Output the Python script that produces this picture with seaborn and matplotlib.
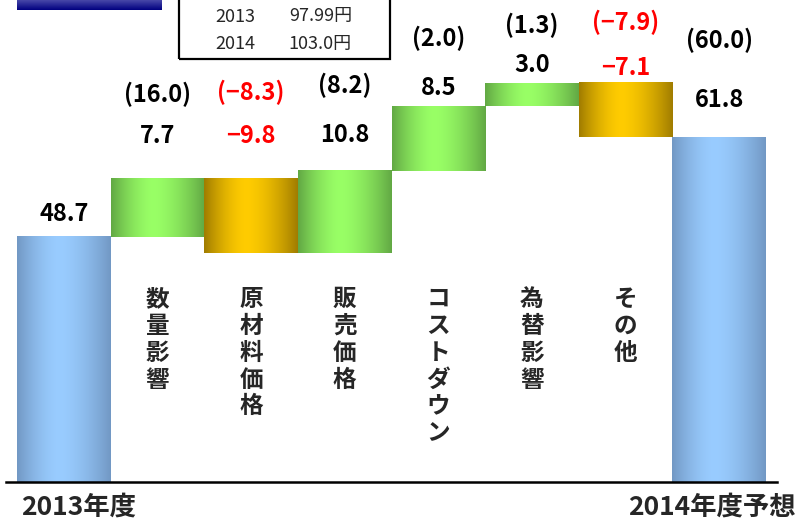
import numpy as np
import pandas as pd
import matplotlib
matplotlib.use("Agg")
import matplotlib.pyplot as plt
from matplotlib.colors import to_rgb
from matplotlib.patches import Rectangle
import seaborn as sns

# 営業利益の増減要因（億円）
categories = ["2013年度", "数量影響", "原材料価格", "販売価格",
              "コストダウン", "為替影響", "その他", "2014年度予想"]
changes = [48.7, 7.7, -9.8, 10.8, 8.5, 3.0, -7.1, 61.8]
plan_values = [None, 16.0, -8.3, 8.2, 2.0, 1.3, -7.9, 60.0]
kinds = ["total", "step", "step", "step", "step", "step", "step", "total"]

# 為替レート
fx_years = ["2013", "2014"]
fx_rates = [97.99, 103.0]

# waterfall geometry: totals start at zero, steps float on the running sum
bottoms, heights = [], []
running = 0.0
for v, k in zip(changes, kinds):
    if k == "total":
        bottoms.append(0.0)
        heights.append(v)
        running = v
    else:
        bottoms.append(running)
        heights.append(v)
        running += v

df = pd.DataFrame({"項目": categories, "値": heights})

sns.set_style("white")
plt.rcParams["font.family"] = ["Noto Sans CJK JP", "DejaVu Sans"]

W, H = 797, 520
fig = plt.figure(figsize=(W / 100, H / 100), dpi=100)
ax = fig.add_axes([6 / W, 1 - 482 / H, 771 / W, 482 / H])

sns.barplot(data=df, x="項目", y="値", bottom=bottoms, width=1.0,
            errorbar=None, color="#99CCFF", linewidth=0, ax=ax)

# horizontal shading: dark edges, bright band left of centre
shades = {
    "total": ("#7298C4", "#99CCFF"),
    "up": ("#62A844", "#99FF66"),
    "down": ("#A07C00", "#FFCC00"),
}


def shade_row(edge, center, n=256, peak=0.45):
    t = np.linspace(0, 1, n)
    s = np.where(t < peak, (peak - t) / peak, (t - peak) / (1 - peak))
    mix = 1 - s ** 1.6
    e, c = np.array(to_rgb(edge)), np.array(to_rgb(center))
    row = e[None, :] * (1 - mix[:, None]) + c[None, :] * mix[:, None]
    return row[None, :, :]


for p, k, h in zip(ax.patches, kinds, heights):
    key = "total" if k == "total" else ("up" if h >= 0 else "down")
    x0, w, y0, hh = p.get_x(), p.get_width(), p.get_y(), p.get_height()
    ylo, yhi = min(y0, y0 + hh), max(y0, y0 + hh)
    ax.imshow(shade_row(*shades[key]), extent=[x0, x0 + w, ylo, yhi],
              aspect="auto", interpolation="bilinear", zorder=2)
    p.set_visible(False)

ax.set_xlim(-0.6175, 7.6175)
ax.set_ylim(16.59, 79.76)
ax.set_xticks([])
ax.set_yticks([])
ax.set_xlabel("")
ax.set_ylabel("")
for side in ["top", "left", "right"]:
    ax.spines[side].set_visible(False)
ax.spines["bottom"].set_color("black")
ax.spines["bottom"].set_linewidth(1.8)
ax.spines["bottom"].set_zorder(3)


def fmt(v):
    s = f"{abs(v):.1f}"
    return "\u2212" + s if v < 0 else s


value_gap_px = [16, 35, 35, 29, 11, 11, 8, 30]
plan_gap_px = [0, 76, 78, 78, 60, 50, 53, 89]

for i, (v, pv) in enumerate(zip(changes, plan_values)):
    top = max(bottoms[i], bottoms[i] + heights[i])
    ax.annotate(fmt(v), xy=(i, top), xytext=(0, value_gap_px[i] * 0.72),
                textcoords="offset points", ha="center", va="baseline",
                fontsize=17, fontweight="bold",
                color="#FF0000" if v < 0 else "black", zorder=4)
    if pv is not None:
        ax.annotate(f"({fmt(pv)})", xy=(i, top), xytext=(0, plan_gap_px[i] * 0.72),
                    textcoords="offset points", ha="center", va="baseline",
                    fontsize=17, fontweight="bold",
                    color="#FF0000" if pv < 0 else "black", zorder=4)

# vertical category names under the floating bars
for i, (name, k) in enumerate(zip(categories, kinds)):
    if k == "step":
        ax.text(i, 42.15, "\n".join(name), ha="center", va="top",
                fontsize=17, fontweight="bold", linespacing=1.15)

# period names below the axis
ax.text(0.162, 13.3, categories[0], ha="center", va="center",
        fontsize=19, fontweight="bold", clip_on=False)
ax.text(6.925, 13.3, categories[-1], ha="center", va="center",
        fontsize=19, fontweight="bold", clip_on=False)

# exchange-rate box
fig.patches.append(Rectangle((179 / W, 1 - 59 / H), 211 / W, 80 / H,
                             transform=fig.transFigure, fill=False,
                             edgecolor="black", linewidth=1.6))
for j, (yr, rate) in enumerate(zip(fx_years, fx_rates)):
    yc = 1 - (16.5 + 27.5 * j) / H
    fig.text(215 / W, yc, yr, ha="left", va="center", fontsize=13)
    fig.text(352 / W, yc, f"{rate}円", ha="right", va="center", fontsize=13)

# title band
tax = fig.add_axes([17 / W, 1 - 10 / H, 145 / W, 10 / H])
t = np.linspace(0, 1, 64)[:, None]
band = np.array(to_rgb("#4848A8"))[None, :] * (1 - t) + np.array(to_rgb("#000080"))[None, :] * t
tax.imshow(band[:, None, :], aspect="auto", extent=[0, 1, 0, 1], origin="upper")
tax.axis("off")

fig.savefig("out.png", dpi=100)
